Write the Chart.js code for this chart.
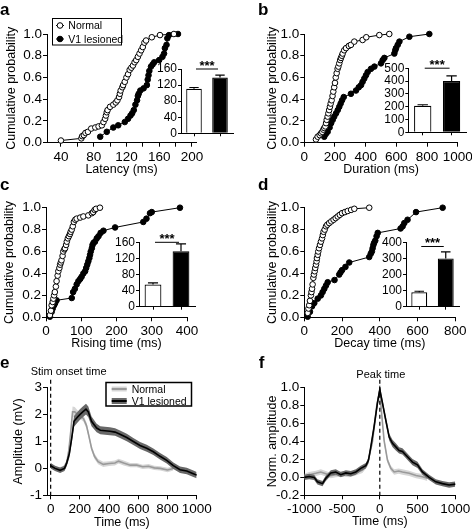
<!DOCTYPE html>
<html>
<head>
<meta charset="utf-8">
<script src="https://cdn.jsdelivr.net/npm/chart.js@4.4.1/dist/chart.umd.min.js"></script>
<style>
  html, body { margin: 0; padding: 0; background: #fff; }
  #fig { position: relative; width: 472px; height: 530px; overflow: hidden; }
  #fig canvas { position: absolute; left: 0; top: 0; }
</style>
</head>
<body>
<div id="fig"></div>
<script>
/* ── DATA ─────────────────────────────────────────────── */
const groups = ['Normal', 'V1 lesioned'];

// a — latency (ms) cumulative distributions
const latNormalMs = [40,65,66,68,70,73,77,82,86,90,92,94,95,96,97,100,104,107,109,111,112,113,115,116,118,120,122,124,126,128,130,132,134,136,138,140,142,144,151,161,178];
const latNormalP  = [.02,.04,.06,.07,.09,.10,.13,.14,.15,.16,.19,.22,.25,.28,.30,.33,.35,.37,.39,.42,.45,.48,.51,.53,.56,.60,.63,.67,.69,.71,.74,.76,.79,.82,.85,.88,.92,.94,.97,.99,1.0];
const latLesionMs = [88,96,104,110,118,122,125,127,129,131,133,134,135,137,141,145,146,147,148,150,152,154,160,164,166,167,169,170,172,183];
const latLesionP  = [.055,.10,.14,.16,.19,.22,.25,.27,.30,.35,.39,.43,.45,.48,.50,.53,.58,.62,.66,.70,.72,.74,.76,.79,.82,.87,.90,.96,.99,1.0];
const latMeans = [111, 139];
const latSem   = [3, 6];

// b — duration (ms)
const durNormalMs = [76,87,100,109,117,124,130,137,142,146,152,157,162,167,172,178,184,189,195,200,205,211,217,222,228,234,239,245,250,260,272,290,304,326,380,404,489,554];
const durNormalP  = [.03,.055,.07,.086,.10,.12,.135,.15,.18,.21,.24,.27,.30,.33,.36,.39,.43,.47,.51,.55,.60,.64,.68,.70,.73,.76,.78,.80,.82,.85,.87,.89,.90,.93,.945,.97,.99,1.0];
const durLesionMs = [130,140,152,165,175,185,195,207,218,228,237,246,257,304,337,355,370,380,391,402,413,435,457,500,511,522,587,593,598,609,620,685,815];
const durLesionP  = [.055,.08,.10,.14,.18,.21,.24,.27,.30,.33,.36,.39,.42,.45,.48,.51,.53,.56,.59,.62,.65,.68,.70,.73,.76,.78,.82,.85,.87,.90,.93,.975,1.0];
const durMeans = [207, 400];
const durSem   = [8, 40];

// c — rising time (ms)
const riseNormalMs = [11,14,16,19,21,23,25,28,30,33,35,38,40,42,44,47,49,52,54,57,59,62,65,68,70,73,76,79,83,87,97,106,120,130,134,138,142,153];
const riseNormalP  = [.02,.06,.11,.14,.17,.20,.23,.28,.33,.38,.42,.45,.48,.50,.52,.56,.60,.62,.63,.66,.69,.72,.74,.76,.78,.80,.83,.87,.89,.90,.91,.92,.93,.95,.96,.98,.99,1.0];
const riseLesionMs = [11,16,19,23,26,30,73,77,82,87,92,97,101,106,111,114,117,120,123,125,127,130,132,135,139,144,149,155,163,196,276,285,295,300,380];
const riseLesionP  = [.006,.05,.08,.11,.13,.155,.176,.23,.26,.30,.33,.35,.37,.40,.42,.45,.48,.51,.54,.57,.60,.63,.66,.68,.69,.72,.74,.77,.79,.82,.87,.90,.95,.96,1.0];
const riseMeans = [55, 138];
const riseSem   = [4, 18];

// d — decay time (ms)
const decayNormalMs = [18,22,26,30,35,38,41,44,48,51,55,58,62,65,67,71,74,78,83,88,94,98,102,108,115,122,132,143,155,166,177,188,200,215,230,248,265,344];
const decayNormalP  = [.04,.08,.11,.15,.20,.23,.26,.30,.36,.39,.42,.45,.48,.51,.54,.57,.60,.63,.66,.69,.72,.75,.78,.80,.83,.845,.86,.875,.89,.905,.92,.935,.95,.96,.97,.98,.99,1.0];
const decayLesionMs = [18,30,41,53,71,88,97,106,115,124,160,185,192,200,218,238,344,352,358,362,366,370,376,383,389,510,521,530,547,592,733];
const decayLesionP  = [.006,.05,.10,.13,.17,.20,.23,.26,.29,.32,.34,.39,.41,.43,.46,.50,.55,.58,.60,.63,.66,.68,.70,.74,.77,.81,.83,.86,.89,.96,1.0];
const decayMeans = [90, 300];
const decaySem   = [6, 40];

// e — mean amplitude (mV) vs time from stim onset
const ampNormalT   = [0,20,50,85,110,125,140,150,165,185,205,225,245,262,280,300,325,360,400,440,465,500,545,590,630,670,710,750,800,840];
const ampNormalMv  = [0.1,0.05,-0.05,0.0,0.2,0.7,1.5,2.1,2.1,2.0,1.95,1.85,1.6,1.2,0.75,0.45,0.25,0.15,0.18,0.2,0.27,0.2,0.12,0.12,0.06,0.08,0.02,0.0,-0.06,0.0];
const ampNormalSem = [0.08,0.08,0.08,0.08,0.1,0.15,0.18,0.2,0.18,0.15,0.12,0.12,0.12,0.12,0.1,0.1,0.1,0.1,0.09,0.09,0.09,0.09,0.08,0.08,0.08,0.08,0.08,0.08,0.08,0.08];
const ampLesionT   = [0,30,65,95,110,128,145,160,183,200,220,242,258,280,315,340,372,406,441,475,521,566,612,658,703,749,795,840,886,932,977,1000];
const ampLesionMv  = [0.1,0.0,-0.07,0.0,0.2,0.55,1.15,1.75,1.9,2.0,2.1,2.2,2.1,1.75,1.5,1.42,1.4,1.38,1.35,1.27,1.15,1.0,0.85,0.75,0.62,0.45,0.3,0.1,-0.05,-0.1,-0.2,-0.25];
const ampLesionSem = [0.1,0.1,0.1,0.1,0.12,0.15,0.18,0.2,0.2,0.2,0.2,0.2,0.2,0.18,0.16,0.15,0.15,0.15,0.14,0.14,0.14,0.13,0.13,0.13,0.12,0.12,0.12,0.12,0.12,0.12,0.12,0.12];

// f — normalised amplitude vs time from peak
const normNormalT   = [-1000,-936,-848,-781,-715,-649,-583,-494,-406,-318,-230,-163,-97,-40,0,20,57,102,146,190,250,300,389,480,565,630];
const normNormalV   = [0.01,0.03,0.045,0.06,0.04,0.02,0.03,0.04,0.03,0.05,0.08,0.15,0.4,0.8,0.97,0.75,0.41,0.19,0.1,0.06,0.07,0.06,0.045,0.02,0.007,-0.01];
const normNormalSem = [0.03,0.03,0.03,0.03,0.03,0.03,0.03,0.03,0.03,0.03,0.03,0.03,0.04,0.04,0.04,0.04,0.04,0.03,0.03,0.03,0.03,0.03,0.03,0.03,0.03,0.03];
const normLesionT   = [-1000,-936,-870,-826,-759,-715,-649,-583,-517,-450,-384,-318,-252,-185,-150,-119,-75,-31,0,35,79,124,168,212,256,300,344,389,433,499,565,653,742,830,918,1000];
const normLesionV   = [0.0,0.01,0.0,-0.05,-0.07,-0.01,0.05,0.06,0.03,0.05,0.04,0.06,0.1,0.13,0.19,0.34,0.57,0.83,0.98,0.83,0.64,0.45,0.38,0.34,0.3,0.29,0.25,0.21,0.17,0.14,0.06,0.0,-0.05,-0.07,-0.085,-0.075];
const normLesionSem = [0.03,0.03,0.03,0.03,0.03,0.03,0.03,0.03,0.03,0.03,0.03,0.03,0.03,0.03,0.03,0.04,0.04,0.04,0.04,0.04,0.04,0.04,0.04,0.04,0.035,0.035,0.035,0.035,0.035,0.035,0.03,0.03,0.03,0.03,0.03,0.03];

// tick values
const probTicks     = [0, 0.2, 0.4, 0.6, 0.8, 1.0];
const latTicks      = [40, 60, 80, 100, 120, 140, 160, 180, 200];
const durTicks      = [0, 200, 400, 600, 800, 1000];
const riseTicks     = [0, 100, 200, 300, 400];
const decayTicks    = [0, 200, 400, 600, 800];
const latBarTicks   = [0, 40, 80, 120, 160];
const durBarTicks   = [0, 100, 200, 300, 400, 500];
const riseBarTicks  = [0, 40, 80, 120, 160];
const decayBarTicks = [0, 100, 200, 300, 400];
const ampTimeTicks  = [0, 200, 400, 600, 800, 1000];
const ampTicks      = [-1, 0, 1, 2, 3];
const normTimeTicks = [-1000, -500, 0, 500, 1000];
const normTicks     = [-0.2, 0, 0.2, 0.4, 0.6, 0.8, 1.0];

/* ── SETUP ────────────────────────────────────────────── */
const W = 472, H = 530;
const FONT = "'Liberation Sans', Arial, Helvetica, sans-serif";
Chart.defaults.font.family = FONT;
Chart.defaults.color = '#000';

const fig = document.getElementById('fig');

function sheet() {
  const cv = document.createElement('canvas');
  cv.width = W; cv.height = H;
  cv.style.width = W + 'px'; cv.style.height = H + 'px';
  fig.appendChild(cv);
  return cv;
}

function txt(ctx, s, x, y, size, align, bold) {
  ctx.font = (bold ? 'bold ' : '') + size + 'px ' + FONT;
  ctx.fillStyle = '#000';
  ctx.textAlign = align || 'left';
  ctx.textBaseline = 'alphabetic';
  ctx.fillText(s, x, y);
}

function axis(o) {
  return {
    type: o.type || 'linear',
    min: o.min, max: o.max,
    afterFit: s => {
      if (s.isHorizontal()) s.height = o.size; else s.width = o.size;
      s.paddingLeft = s.paddingRight = s.paddingTop = s.paddingBottom = 0;
    },
    afterBuildTicks: o.ticks ? s => { s.ticks = o.ticks.map(v => ({ value: v })); } : undefined,
    grid: { display: true, drawOnChartArea: false, drawTicks: true, tickLength: o.tl || 4,
            color: '#000', lineWidth: 1, offset: false },
    border: { display: true, color: '#000', width: 1 },
    ticks: { font: { size: o.fs || 13.5 }, padding: o.pad == null ? 2 : o.pad, maxRotation: 0, minRotation: 0,
             autoSkip: false, color: '#000', callback: o.fmt || (v => v) },
    title: { display: !!o.title, text: o.title, font: { size: 12.5 }, padding: 0, color: '#000' }
  };
}

function base(box, scales) {
  return {
    responsive: false, animation: false, events: [],
    layout: { autoPadding: false,
      padding: { left: box.L - box.yW, top: box.T, right: W - box.R, bottom: H - box.B - box.xH } },
    plugins: { legend: { display: false }, tooltip: { enabled: false } },
    scales
  };
}

const ecdf = (xs, ys, fill) => ({
  data: xs.map((x, i) => ({ x, y: ys[i] })),
  showLine: true, borderColor: '#000', borderWidth: 1, clip: false,
  pointRadius: 2.8, pointBackgroundColor: fill, pointBorderColor: '#000', pointBorderWidth: 1
});

/* ── CUMULATIVE PANELS ────────────────────────────────── */
function cdfPanel(box, xr, xTicks, xFmt, xTitle, nx, ny, lx, ly, extra) {
  new Chart(sheet(), {
    type: 'scatter',
    data: { datasets: [ecdf(nx, ny, '#fff'), ecdf(lx, ly, '#000')] },
    options: base(box, {
      x: axis({ min: xr[0], max: xr[1], ticks: xTicks, fmt: xFmt, size: box.xH, title: xTitle }),
      y: axis({ min: 0, max: 1, ticks: probTicks, fmt: v => v.toFixed(1), size: box.yW,
                title: 'Cumulative probability', pad: 1 })
    }),
    plugins: [{ id: 'decor', afterDraw: c => { c.ctx.save(); extra(c.ctx); c.ctx.restore(); } }]
  });
}

/* ── INSET BAR CHARTS ─────────────────────────────────── */
function insetPanel(box, means, sem, yMax, yTicks, sigLevel) {
  new Chart(sheet(), {
    type: 'bar',
    data: { labels: groups, datasets: [{
      data: means, backgroundColor: ['#fff', '#000'], borderColor: '#000', borderWidth: 1.2,
      barPercentage: 0.6, categoryPercentage: 1
    }] },
    options: base(box, {
      x: axis({ type: 'category', size: box.xH, fmt: () => '', tl: 3, pad: 0 }),
      y: axis({ min: 0, max: yMax, ticks: yTicks, size: box.yW, fs: 12, tl: 3, pad: 1 })
    }),
    plugins: [{ id: 'errs', afterDatasetsDraw: c => {
      const ctx = c.ctx, ys = c.scales.y, xs = c.scales.x;
      ctx.save();
      ctx.strokeStyle = '#000'; ctx.lineWidth = 1.2;
      c.getDatasetMeta(0).data.forEach((bar, i) => {
        const top = ys.getPixelForValue(means[i] + sem[i]);
        const hw = bar.width * 0.3;
        ctx.beginPath();
        ctx.moveTo(bar.x, bar.y); ctx.lineTo(bar.x, top);
        ctx.moveTo(bar.x - hw, top); ctx.lineTo(bar.x + hw, top);
        ctx.stroke();
      });
      // significance bar
      const x0 = xs.getPixelForValue(0) + 2, x1 = xs.getPixelForValue(1) - 2;
      const sy = ys.getPixelForValue(sigLevel);
      ctx.lineWidth = 1;
      ctx.beginPath(); ctx.moveTo(x0, sy); ctx.lineTo(x1, sy); ctx.stroke();
      txt(ctx, '***', (x0 + x1) / 2, sy + 0.5, 13, 'center', true);
      ctx.restore();
    } }]
  });
}

/* ── TRACE PANELS (mean ± SEM) ────────────────────────── */
function traceSets(t, v, s, lineColor, bandColor, order) {
  const pts = arr => t.map((x, i) => ({ x, y: arr[i] }));
  const common = { pointRadius: 0, tension: 0, clip: false };
  return [
    { ...common, data: pts(v), borderColor: lineColor, borderWidth: 1.6, fill: false, order },
    { ...common, data: pts(v.map((y, i) => y + s[i])), borderWidth: 0, borderColor: 'rgba(0,0,0,0)', fill: false, order: order + 1 },
    { ...common, data: pts(v.map((y, i) => y - s[i])), borderWidth: 0, borderColor: 'rgba(0,0,0,0)', fill: '-1',
      backgroundColor: bandColor, order: order + 1 }
  ];
}

function tracePanel(box, xr, yr, xTicks, yTicks, yFmt, yTitle, sets, extra) {
  new Chart(sheet(), {
    type: 'line',
    data: { datasets: sets },
    options: base(box, {
      x: axis({ min: xr[0], max: xr[1], ticks: xTicks, size: box.xH, title: 'Time (ms)' }),
      y: axis({ min: yr[0], max: yr[1], ticks: yTicks, fmt: yFmt, size: box.yW, title: yTitle, pad: 1 })
    }),
    plugins: [{ id: 'decor', afterDraw: c => {
      const ctx = c.ctx, x0 = c.scales.x.getPixelForValue(0);
      ctx.save();
      ctx.strokeStyle = '#000'; ctx.lineWidth = 1.2; ctx.setLineDash([4, 3]);
      ctx.beginPath(); ctx.moveTo(x0, c.chartArea.top - 8); ctx.lineTo(x0, c.chartArea.bottom); ctx.stroke();
      ctx.setLineDash([]);
      extra(ctx, x0);
      ctx.restore();
    } }]
  });
}

/* ── BUILD ────────────────────────────────────────────── */
// a
cdfPanel({ L: 47, R: 196, T: 34, B: 142.7, yW: 43.2, xH: 34 }, [23, 205], latTicks,
  v => (v % 40 === 0 ? v : ''), 'Latency (ms)', latNormalMs, latNormalP, latLesionMs, latLesionP,
  ctx => {
    txt(ctx, 'a', 0, 15, 17, 'left', true);
    ctx.strokeStyle = '#000'; ctx.lineWidth = 1;
    ctx.fillStyle = '#fff'; ctx.fillRect(52.5, 18.5, 69, 26.5);
    ctx.strokeRect(52.5, 18.5, 69, 26.5);
    [[25.5, 29.3, '#fff'], [39, 42.8, '#000']].forEach(([y, base, fill], i) => {
      ctx.beginPath(); ctx.moveTo(56, y); ctx.lineTo(64, y); ctx.stroke();
      ctx.beginPath(); ctx.arc(60, y, 2.8, 0, Math.PI * 2);
      ctx.fillStyle = fill; ctx.fill(); ctx.stroke();
      txt(ctx, groups[i], 68.3, base, 10.5);
    });
  });
insetPanel({ L: 181, R: 233, T: 69, B: 133.3, yW: 30, xH: 6 }, latMeans, latSem, 160, latBarTicks, 160);

// b
cdfPanel({ L: 304.3, R: 457.7, T: 34, B: 142.7, yW: 38.8, xH: 34 }, [0, 1000], durTicks, null,
  'Duration (ms)', durNormalMs, durNormalP, durLesionMs, durLesionP,
  ctx => txt(ctx, 'b', 258, 15, 17, 'left', true));
insetPanel({ L: 408.3, R: 466, T: 68.2, B: 132.3, yW: 30, xH: 6 }, durMeans, durSem, 500, durBarTicks, 500);

// c
cdfPanel({ L: 46, R: 187, T: 207.7, B: 317.3, yW: 43.7, xH: 33.9 }, [0, 400], riseTicks, null,
  'Rising time (ms)', riseNormalMs, riseNormalP, riseLesionMs, riseLesionP,
  ctx => txt(ctx, 'c', 0, 190, 17, 'left', true));
insetPanel({ L: 139, R: 195, T: 242.3, B: 306.7, yW: 30, xH: 6 }, riseMeans, riseSem, 160, riseBarTicks, 160);

// d
cdfPanel({ L: 304.3, R: 455.3, T: 207.7, B: 317.3, yW: 38.8, xH: 33.9 }, [0, 800], decayTicks, null,
  'Decay time (ms)', decayNormalMs, decayNormalP, decayLesionMs, decayLesionP,
  ctx => txt(ctx, 'd', 258, 190, 17, 'left', true));
insetPanel({ L: 406, R: 459, T: 242.3, B: 306.7, yW: 30, xH: 6 }, decayMeans, decaySem, 400, decayBarTicks, 374);

// e
tracePanel({ L: 47, R: 196.7, T: 387.7, B: 495.3, yW: 35.5, xH: 34.4 }, [-25, 1000], [-1, 3],
  ampTimeTicks, ampTicks, null, 'Amplitude (mV)',
  [...traceSets(ampLesionT, ampLesionMv, ampLesionSem, '#000', '#686868', 0),
   ...traceSets(ampNormalT, ampNormalMv, ampNormalSem, '#9a9a9a', '#d6d6d6', 3)],
  ctx => {
    txt(ctx, 'e', 0, 368, 17, 'left', true);
    txt(ctx, 'Stim onset time', 30.7, 375, 11);
    ctx.fillStyle = '#fff'; ctx.fillRect(106, 382.5, 85.5, 23.5);
    ctx.strokeStyle = '#000'; ctx.lineWidth = 1.5; ctx.strokeRect(106, 382.5, 85.5, 23.5);
    const rows = [[389, 393, '#d6d6d6', 5, '#9a9a9a'], [401, 405, '#686868', 6, '#000']];
    rows.forEach(([y, base, band, bw, line], i) => {
      ctx.strokeStyle = band; ctx.lineWidth = bw;
      ctx.beginPath(); ctx.moveTo(111.7, y); ctx.lineTo(126.7, y); ctx.stroke();
      ctx.strokeStyle = line; ctx.lineWidth = 2;
      ctx.beginPath(); ctx.moveTo(111.7, y); ctx.lineTo(126.7, y); ctx.stroke();
      txt(ctx, groups[i], 131.7, base, 10.5);
    });
  });

// f
tracePanel({ L: 304.3, R: 455.3, T: 387.7, B: 495.3, yW: 39.5, xH: 33.6 }, [-1000, 1000], [-0.2, 1.0],
  normTimeTicks, normTicks, v => v.toFixed(1), 'Norm. amplitude',
  [...traceSets(normLesionT, normLesionV, normLesionSem, '#000', '#686868', 0),
   ...traceSets(normNormalT, normNormalV, normNormalSem, '#9a9a9a', '#d6d6d6', 3)],
  (ctx, x0) => {
    txt(ctx, 'f', 258.7, 368, 17, 'left', true);
    txt(ctx, 'Peak time', x0 + 1, 377.5, 11, 'center');
  });
</script>
</body>
</html>
